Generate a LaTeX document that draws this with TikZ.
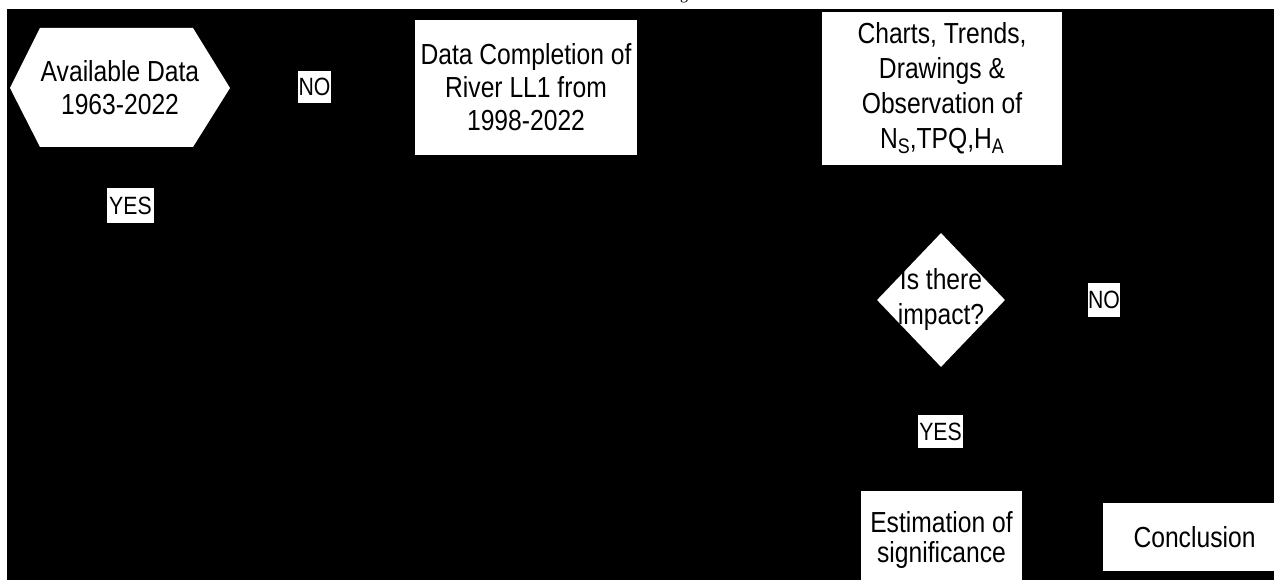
\documentclass[tikz,border=0pt]{standalone}
\usepackage{fontspec}
\setmainfont[FakeStretch=0.85]{Liberation Sans}
\newfontfamily\capfont{Liberation Serif}
\usetikzlibrary{shapes.geometric,arrows.meta,calc}
\tikzset{
  txt/.style={align=center,font=\fontsize{29}{33}\selectfont,text=black,inner sep=0pt},
  whitebox/.style={fill=white,draw=none,inner sep=0pt,align=center,font=\fontsize{29}{33}\selectfont},
  lbl/.style={fill=white,draw=none,inner sep=0pt,font=\fontsize{25}{25}\selectfont},
  conn/.style={draw=black,line width=1.5pt,-{Stealth[length=9pt]}},
}
\begin{document}
\begin{tikzpicture}[x=1pt,y=-1pt]
\useasboundingbox (0,0) rectangle (1274,580);
\node[anchor=base,inner sep=0pt,font=\capfont\fontsize{16}{16}\selectfont] (cap) at (684,-0.4) {g};
\fill[black] (7,9) rectangle (1284,590);
% hexagon
\coordinate (hc) at (120,88);
\fill[white] ($(hc)+(-110,0)$) -- ($(hc)+(-80,-60)$) -- ($(hc)+(73,-60)$) -- ($(hc)+(110,0)$) -- ($(hc)+(73,59)$) -- ($(hc)+(-80,59)$) -- cycle;
\node[txt,minimum width=220pt,minimum height=119pt] (avail) at (hc) {Available Data\\1963-2022};
% boxes
\node[whitebox,minimum width=222pt,minimum height=135pt] (comp) at (526,87.5) {Data Completion of\\River LL1 from\\1998-2022};
\node[whitebox,minimum width=240pt,minimum height=153pt,font=\fontsize{29}{35}\selectfont] (charts) at (942,88.5) {Charts, Trends,\\Drawings \&\\Observation of\\N\raisebox{-5pt}{\fontsize{21}{21}\selectfont S},TPQ,H\raisebox{-5pt}{\fontsize{21}{21}\selectfont A}};
\node[diamond,fill=white,draw=none,inner sep=0pt,minimum width=128pt,minimum height=134pt] (imp) at (941,300) {};
\node[txt,font=\fontsize{29}{35}\selectfont] (imptxt) at (imp) {Is there\\impact?};
\node[whitebox,minimum width=161pt,minimum height=98pt,font=\fontsize{29}{30}\selectfont] (est) at (941.5,540) {Estimation of\\significance};
\node[whitebox,minimum width=183pt,minimum height=68pt] (concl) at (1194.5,537) {Conclusion};
% labels
\node[lbl,minimum width=33pt,minimum height=32pt] (no1) at (314.5,87) {NO};
\node[lbl,minimum width=47pt,minimum height=35pt] (yes1) at (130.5,205.5) {YES};
\node[lbl,minimum width=32pt,minimum height=34pt] (no2) at (1104,300) {NO};
\node[lbl,minimum width=45pt,minimum height=33pt] (yes2) at (940.5,431.5) {YES};
\coordinate (yesend) at (130.5,300);
% connectors (black on black)
\draw[conn] (avail.east) -- (no1) -- (comp.west);
\draw[conn] (avail.south) -- (yes1) -- (yesend);
\draw[conn] (comp.east) -- (charts.west);
\draw[conn] (charts.south) -- (imp.north);
\draw[conn] (imp.east) -- (no2) -| (concl.north);
\draw[conn] (imp.south) -- (yes2) -- (est.north);
\draw[conn] (est.east) -- (concl.west);
\end{tikzpicture}
\end{document}
